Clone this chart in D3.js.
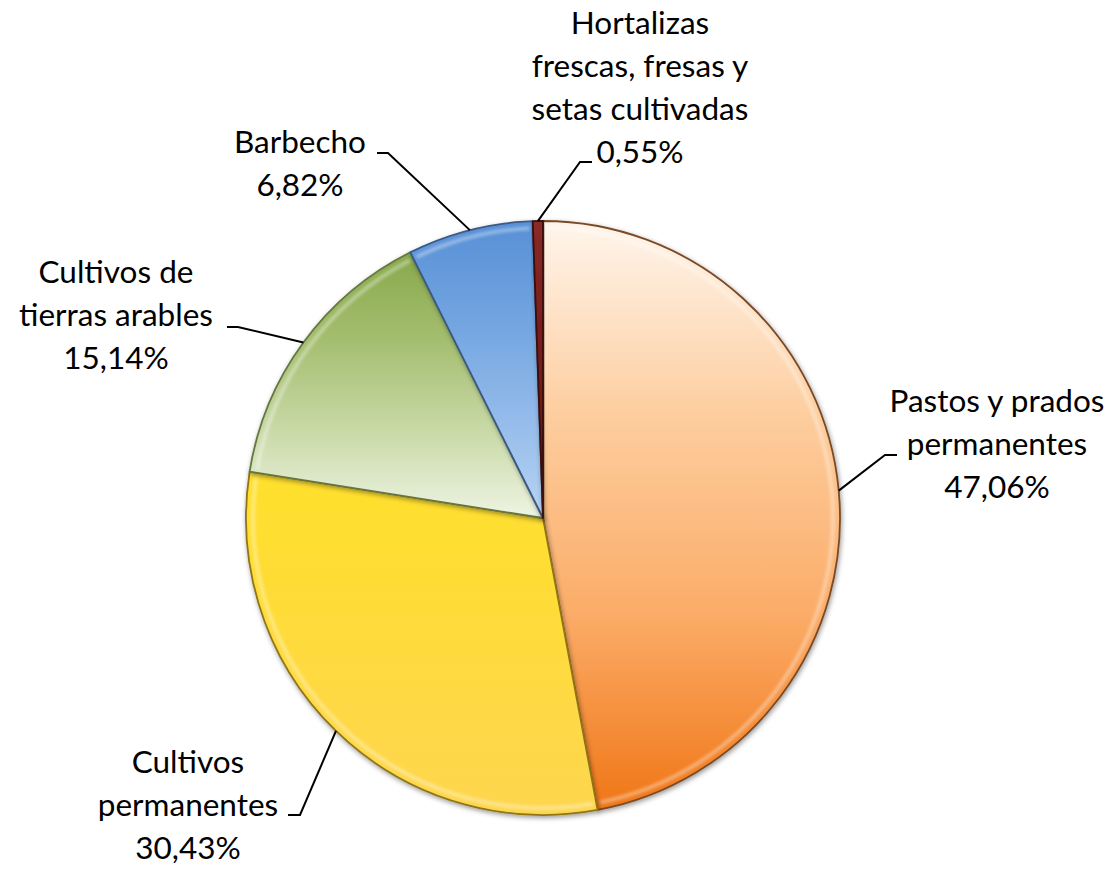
<!DOCTYPE html>
<html>
<head>
<meta charset="utf-8">
<script src="https://cdn.jsdelivr.net/npm/d3@7"></script>
<style>
  body { margin: 0; background: #fff; }
  text { font-family: Lato, "Open Sans", sans-serif; fill: #000; }
</style>
</head>
<body>
<script>
// data
const categories = ["Pastos y prados permanentes", "Cultivos permanentes", "Cultivos de tierras arables", "Barbecho", "Hortalizas frescas, fresas y setas cultivadas"];
const values = [47.06, 30.43, 15.14, 6.82, 0.55];
const labelLines = [
  ["Pastos y prados", "permanentes"],
  ["Cultivos", "permanentes"],
  ["Cultivos de", "tierras arables"],
  ["Barbecho"],
  ["Hortalizas", "frescas, fresas y", "setas cultivadas"]
];

// layout
const width = 1117, height = 869;
const cx = 543, cy = 518, radius = 297;
const lineH = 43;
// label centre x, first baseline, leader elbow (x,y) and tail end x
const labelPos = [
  { x: 997, y: 412, ex: 885, ey: 455, tx: 897 },
  { x: 188, y: 773, ex: 300, ey: 815, tx: 288 },
  { x: 116, y: 283, ex: 238, ey: 327, tx: 227 },
  { x: 300, y: 153, ex: 388, ey: 153, tx: 377 },
  { x: 640, y: 34, ex: 580, ey: 162, tx: 592 }
];
// gradient stops per slice (top -> bottom)
const fills = [
  ["#fff5ec", "#fdcd9e", "#fbac68", "#f07616"],
  ["#ffe02c", "#ffdc36", "#ffd943", "#fdd650"],
  ["#88a84a", "#a4be70", "#c8d9a6", "#eef4e3"],
  ["#5790d6", "#72a4e0", "#94bbea", "#b9d4f3"],
  ["#8a2a26", "#7a1f1c", "#6e1a18", "#6a1816"]
];
const edges = ["#7a4a25", "#8f7518", "#66763f", "#3a5a86", "#3a0d0c"];

const svg = d3.select("body").append("svg")
  .attr("width", width)
  .attr("height", height);

const defs = svg.append("defs");

fills.forEach((stops, i) => {
  const g = defs.append("linearGradient")
    .attr("id", "grad" + i)
    .attr("x1", 0).attr("y1", 0).attr("x2", 0).attr("y2", 1);
  stops.forEach((c, j) => {
    g.append("stop").attr("offset", j / (stops.length - 1)).attr("stop-color", c);
  });
});

const shadow = defs.append("filter").attr("id", "shadow")
  .attr("x", "-10%").attr("y", "-10%").attr("width", "120%").attr("height", "120%");
shadow.append("feDropShadow")
  .attr("dx", 1).attr("dy", 2).attr("stdDeviation", 2.5)
  .attr("flood-color", "#000").attr("flood-opacity", 0.4);

const soft = defs.append("filter").attr("id", "soft");
soft.append("feGaussianBlur").attr("stdDeviation", 1.6);

const pie = d3.pie().sort(null).value(d => d)
  .startAngle(0).endAngle(2 * Math.PI);
const arcs = pie(values);

const arc = d3.arc().innerRadius(0).outerRadius(radius);
const rimArc = d3.arc().innerRadius(radius - 9).outerRadius(radius - 5);

const g = svg.append("g").attr("transform", `translate(${cx},${cy})`);

// slices
const slices = g.selectAll(".slice")
  .data(arcs)
  .enter()
  .append("g")
  .attr("class", "slice");

slices.append("path")
  .attr("d", arc)
  .attr("fill", (d, i) => `url(#grad${i})`)
  .attr("stroke", (d, i) => edges[i])
  .attr("stroke-width", 1.8)
  .attr("stroke-linejoin", "round")
  .attr("filter", "url(#shadow)");

// bevel highlight near the rim
slices.append("path")
  .attr("d", d => rimArc({
    startAngle: d.startAngle + 0.012,
    endAngle: d.endAngle - 0.012
  }))
  .attr("fill", "#fff")
  .attr("opacity", (d, i) => i === 4 ? 0 : 0.35)
  .attr("filter", "url(#soft)");

// leader lines
arcs.forEach((d, i) => {
  const p = labelPos[i];
  const mid = (d.startAngle + d.endAngle) / 2;
  const rx = cx + radius * Math.sin(mid);
  const ry = cy - radius * Math.cos(mid);
  svg.append("polyline")
    .attr("points", `${rx},${ry} ${p.ex},${p.ey} ${p.tx},${p.ey}`)
    .attr("fill", "none")
    .attr("stroke", "#000")
    .attr("stroke-width", 2);
});

// labels
const fmt = v => v.toFixed(2).replace(".", ",") + "%";

categories.forEach((c, i) => {
  const p = labelPos[i];
  const lines = labelLines[i].concat([fmt(values[i])]);
  const t = svg.append("text")
    .attr("text-anchor", "middle")
    .attr("font-size", "31.5px");
  lines.forEach((l, j) => {
    t.append("tspan")
      .attr("x", p.x)
      .attr("y", p.y + j * lineH)
      .text(l);
  });
});
</script>
</body>
</html>
